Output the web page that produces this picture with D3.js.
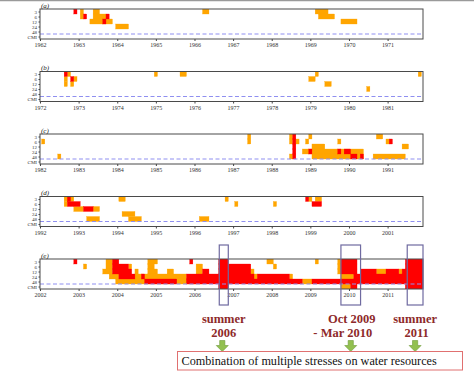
<!DOCTYPE html>
<html><head><meta charset="utf-8">
<script src="https://cdn.jsdelivr.net/npm/d3@7"></script>
<style>body{margin:0;background:#fff} svg{display:block}</style>
</head><body>
<svg id="c" width="474" height="375"></svg>
<script>
// ---------- data ----------
const rowLabels = ["3","6","12","24","48","CMI"];
const panelLabels = ["(a)","(b)","(c)","(d)","(e)"];
const startYears = [1962,1972,1982,1992,2002];
// runs: [row, firstMonth, lastMonth, level]; months counted from January of the panel's first year
// level 1 = orange, level 2 = red
const runsA = [
  [0,11,11,2],[0,13,13,1],[1,13,13,1],[1,14,14,2],
  [0,17,18,1],[1,17,20,1],[2,16,22,1],[1,21,21,2],[2,20,20,2],
  [3,24,27,1],[0,51,52,1],
  [0,86,89,1],[1,87,91,1],[2,94,98,1]
];
const runsB = [
  [0,8,8,2],[0,9,9,1],[1,8,8,1],[2,8,8,1],[1,10,10,2],[1,11,11,1],[2,10,10,1],
  [0,36,36,1],[0,44,45,1],
  [0,86,86,1],[1,84,85,1],[2,89,90,1],[3,102,102,1],[0,118,118,1]
];
const runsC = [
  [1,1,1,1],[4,6,6,1],[0,65,65,1],[1,65,65,1],
  [0,78,78,1],[1,78,78,1],[4,78,78,1],[0,79,79,2],[1,79,79,2],[2,79,79,2],[3,79,79,2],[4,79,79,2],[1,80,80,1],
  [0,84,84,1],[1,83,83,1],
  [2,85,88,1],[3,82,100,1],[3,84,84,2],[3,93,93,2],[3,95,96,2],
  [4,85,100,1],[4,97,98,2],[4,100,100,2],
  [1,93,93,1],[0,105,106,1],[1,108,108,1],[1,109,109,2],[2,113,114,1],[4,104,113,1]
];
const runsD = [
  [0,8,10,1],[0,9,9,2],[1,8,8,1],[1,9,12,2],
  [2,11,13,1],[2,14,16,2],[2,17,18,1],[4,15,18,1],
  [0,25,26,1],[3,26,29,1],[4,28,31,1],[4,50,52,1],[0,58,58,1],[1,61,61,1],
  [1,73,73,1],[0,83,83,2],[0,84,84,1],[0,86,87,1],[1,85,87,2]
];
const runsE = [
  [0,11,11,2],[0,21,22,1],[0,23,24,2],[0,34,36,1],[0,47,47,2],[0,56,58,2],[0,71,72,1],
  [0,86,86,1],[0,93,93,1],[0,94,98,2],[0,97,97,1],[0,114,119,2],
  [1,14,14,1],[1,21,22,1],[1,23,27,2],[1,28,28,1],[1,34,35,1],[1,49,50,1],[1,56,65,2],
  [1,73,73,1],[1,93,93,1],[1,94,98,2],[1,114,119,2],
  [2,20,22,1],[2,23,28,2],[2,30,30,1],[2,34,36,1],[2,40,41,1],[2,49,50,1],[2,51,52,2],
  [2,56,65,2],[2,66,66,1],[2,93,93,1],[2,94,98,2],[2,100,104,2],[2,105,107,1],[2,108,111,2],
  [2,112,112,1],[2,113,119,2],
  [3,22,24,1],[3,25,29,2],[3,30,45,1],[3,32,32,2],[3,46,66,2],[3,67,67,1],[3,68,77,2],
  [3,78,78,1],[3,94,97,1],[3,98,98,2],[3,99,119,2],
  [4,24,50,1],[4,33,42,2],[4,46,81,2],[4,82,84,1],[4,85,119,2],
  [5,56,58,2],[5,94,96,1],[5,97,98,2],[5,114,119,2]
];
const panelRuns = [runsA, runsB, runsC, runsD, runsE];
// highlighted periods in panel (e), in months from Jan 2002
const eventLabels = [["summer","2006"],["Oct 2009","- Mar 2010"],["summer","2011"]];
const eventStart = [55.7, 93.5, 114.1];
const eventEnd = [58.5, 99.6, 119];
const conclusion = "Combination of multiple stresses on water resources";

// ---------- layout ----------
const L = 40, R = 423, top0 = 9, step = 62.5, PH = 30;
const svg = d3.select("#c");
const x = d3.scaleLinear().domain([0,119]).range([L,R]);
const y = d3.scaleLinear().domain([0,6]).range([0,PH]);
const fill = {1:"#FFA500", 2:"#FF0000"};
const serif = "'Liberation Serif','DejaVu Serif',serif";

svg.append("line").attr("x1",0).attr("x2",474).attr("y1",0.5).attr("y2",0.5)
  .attr("stroke","#9a9a9a").attr("stroke-width",1.5);

panelRuns.forEach((runs,pi) => {
  const top = top0 + pi*step;
  const g = svg.append("g").attr("transform",`translate(0,${top})`);
  const cid = "clip"+pi;
  g.append("clipPath").attr("id",cid).append("rect")
    .attr("x",L).attr("y",0).attr("width",R-L).attr("height",PH);
  const cells = g.append("g").attr("clip-path",`url(#${cid})`);
  const sorted = runs.slice().sort((a,b)=>a[3]-b[3]);
  cells.selectAll("rect").data(sorted).join("rect")
    .attr("x",d=>x(d[1]-0.5))
    .attr("width",d=>x(d[2]+0.5)-x(d[1]-0.5))
    .attr("y",d=>y(d[0]))
    .attr("height",d=>y(d[0]+1)-y(d[0]))
    .attr("fill",d=>fill[d[3]])
    .attr("stroke",d=>fill[d[3]]).attr("stroke-width",0.3);
  // dashed separator
  g.append("line").attr("x1",L).attr("x2",R).attr("y1",y(5)).attr("y2",y(5))
    .attr("stroke","#8f8ff0").attr("stroke-width",1).attr("stroke-dasharray","4,2.5");
  // frame
  g.append("rect").attr("x",L).attr("y",0).attr("width",R-L).attr("height",PH)
    .attr("fill","none").attr("stroke","#4a4a4a").attr("stroke-width",1);
  // x axis
  const xa = d3.axisBottom(x).tickValues(d3.range(0,120,12))
    .tickFormat((d,i)=>String(startYears[pi]+i)).tickSize(2).tickPadding(2);
  const gx = g.append("g").attr("transform",`translate(0,${PH})`).call(xa);
  gx.select(".domain").remove();
  gx.selectAll("line").attr("stroke","#444");
  gx.selectAll("text").attr("font-family",serif).attr("font-size",6).attr("fill","#333");
  // y axis
  const ya = d3.axisLeft(y).tickValues(d3.range(6).map(r=>r+0.5))
    .tickFormat((d,i)=>rowLabels[i]).tickSize(1.5).tickPadding(1.5);
  const gy = g.append("g").attr("transform",`translate(${L},0)`).call(ya);
  gy.select(".domain").remove();
  gy.selectAll("line").attr("stroke","#444");
  gy.selectAll("text").attr("font-family",serif).attr("font-size",5).attr("fill","#333");
  // panel label
  g.append("text").attr("x",L+1).attr("y",-1.5).text(panelLabels[pi])
    .attr("font-family",serif).attr("font-size",7).attr("font-style","italic").attr("fill","#222");
});

// event boxes, labels and arrows
const lineDx = [[0,0],[1,-8],[0,1.5]];
eventLabels.forEach((lab,i) => {
  const x0 = x(eventStart[i]), x1 = x(eventEnd[i]), cx = (x0+x1)/2;
  svg.append("rect").attr("x",x0).attr("y",245).attr("width",x1-x0).attr("height",60)
    .attr("fill","none").attr("stroke","#6f6aa0").attr("stroke-width",1.2);
  lab.forEach((t,j)=>{
    svg.append("text").attr("x",cx + lineDx[i][j]).attr("y",322.5 + j*14.5)
      .attr("text-anchor","middle").text(t)
      .attr("font-family",serif).attr("font-weight","bold").attr("font-size",12.5).attr("fill","#8e2a2a");
  });
  const ax = cx - (i===0?1.5:0);
  const p = d3.path();
  p.moveTo(ax-2.6,340.5); p.lineTo(ax+2.6,340.5); p.lineTo(ax+2.6,345.5); p.lineTo(ax+6,345.5);
  p.lineTo(ax,351.5); p.lineTo(ax-6,345.5); p.lineTo(ax-2.6,345.5); p.closePath();
  svg.append("path").attr("d",p.toString()).attr("fill","#92c050").attr("stroke","#6f9a3a").attr("stroke-width",0.6);
});
svg.append("rect").attr("x",177.5).attr("y",351.5).attr("width",285).attr("height",18.5)
  .attr("fill","#fff").attr("stroke","#e07070").attr("stroke-width",1);
svg.append("text").attr("x",181.5).attr("y",365).text(conclusion)
  .attr("font-family",serif).attr("font-size",12.2).attr("fill","#111");
</script>
</body></html>
